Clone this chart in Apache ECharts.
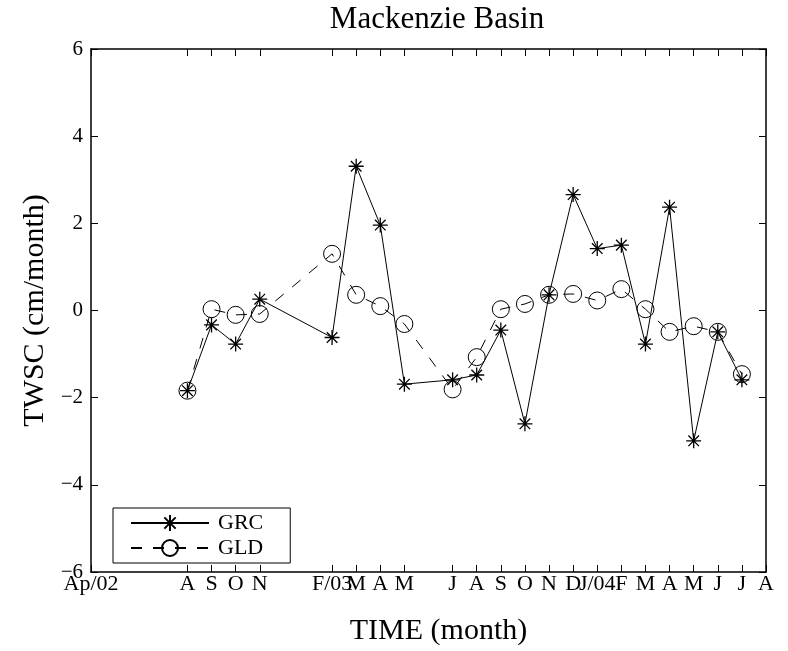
<!DOCTYPE html>
<html>
<head>
<meta charset="utf-8">
<script src="https://cdn.jsdelivr.net/npm/echarts@6/dist/echarts.min.js"></script>
<style>
html,body{margin:0;padding:0;background:#fff;}
#chart{width:788px;height:651px;}
</style>
</head>
<body>
<div id="chart"></div>
<script>
// Months from Apr 2002 (index 0) to Aug 2004 (index 28)
var monthLabels = ['Ap/02','','','','A','S','O','N','','','F/03','M','A','M','','J','A','S','O','N','D','J/04','F','M','A','M','J','J','A'];
var grcValues = [null,null,null,null,-1.84,-0.33,-0.77,0.26,null,null,-0.62,3.31,1.96,-1.69,null,-1.59,-1.48,-0.45,-2.60,0.36,2.66,1.42,1.50,-0.77,2.37,-2.99,-0.49,-1.59,null];
var gldValues = [null,null,null,null,-1.84,0.03,-0.10,-0.08,null,null,1.30,0.36,0.10,-0.31,null,-1.81,-1.07,0.03,0.15,0.36,0.38,0.23,0.49,0.03,-0.49,-0.36,-0.49,-1.46,null];
var yTicks = {min:-6, max:6, step:2};

var FONT = 'Liberation Serif';
var asterisk = 'path://M0,-10L0,10M-10,0L10,0M-7.07,-7.07L7.07,7.07M-7.07,7.07L7.07,-7.07';
function fmtY(v){ return v < 0 ? '\u2212' + Math.abs(v) : String(v); }
var tickFn = function(i, v){ return v !== ''; };

var chart = echarts.init(document.getElementById('chart'));
chart.setOption({
  animation: false,
  backgroundColor: '#fff',
  title: {
    text: 'Mackenzie Basin',
    left: 437, textAlign: 'center', top: 4, padding: 0,
    textStyle: {fontFamily: FONT, fontSize: 31, fontWeight: 'normal', color: '#000'}
  },
  grid: {left: 91, right: 22, top: 49, bottom: 78, containLabel: false},
  legend: {
    left: 113, top: 508, orient: 'vertical',
    padding: [4, 27, 4, 17], itemGap: 3,
    itemWidth: 78, itemHeight: 20,
    borderColor: '#000', borderWidth: 1, backgroundColor: '#fff',
    textStyle: {fontFamily: FONT, fontSize: 22, lineHeight: 22, color: '#000', padding: [0,0,0,4]},
    data: ['GRC', 'GLD']
  },
  xAxis: [{
    type: 'category', data: monthLabels, boundaryGap: false, position: 'bottom',
    name: 'TIME (month)', nameLocation: 'middle', nameGap: 44,
    nameTextStyle: {fontFamily: FONT, fontSize: 30, color: '#000', padding: [0,0,0,20]},
    axisLine: {show: true, onZero: false, lineStyle: {color: '#000', width: 1.5}},
    axisTick: {show: true, inside: true, length: 7, interval: tickFn, lineStyle: {color: '#000'}},
    axisLabel: {interval: 0, margin: 1, fontFamily: FONT, fontSize: 22, color: '#000', hideOverlap: false},
    splitLine: {show: false}
  }, {
    type: 'category', data: monthLabels, boundaryGap: false, position: 'top',
    axisLine: {show: true, onZero: false, lineStyle: {color: '#000', width: 1.5}},
    axisTick: {show: true, inside: true, length: 7, interval: tickFn, lineStyle: {color: '#000'}},
    axisLabel: {show: false}, splitLine: {show: false}
  }],
  yAxis: [{
    type: 'value', min: yTicks.min, max: yTicks.max, interval: yTicks.step, position: 'left',
    name: 'TWSC (cm/month)', nameLocation: 'middle', nameGap: 38, nameRotate: 90,
    nameTextStyle: {fontFamily: FONT, fontSize: 30, color: '#000'},
    axisLine: {show: true, onZero: false, lineStyle: {color: '#000', width: 1.5}},
    axisTick: {show: true, inside: true, length: 7, lineStyle: {color: '#000'}},
    axisLabel: {margin: 8, fontFamily: FONT, fontSize: 21, color: '#000', formatter: fmtY},
    splitLine: {show: false}
  }, {
    type: 'value', min: yTicks.min, max: yTicks.max, interval: yTicks.step, position: 'right',
    axisLine: {show: true, onZero: false, lineStyle: {color: '#000', width: 1.5}},
    axisTick: {show: true, inside: true, length: 7, lineStyle: {color: '#000'}},
    axisLabel: {show: false}, splitLine: {show: false}
  }],
  series: [{
    name: 'GRC', type: 'line', data: grcValues, connectNulls: true,
    symbol: asterisk, symbolSize: 15, showAllSymbol: true,
    lineStyle: {color: '#000', width: 1},
    itemStyle: {color: 'rgba(0,0,0,0)', borderColor: '#000', borderWidth: 1.3}
  }, {
    name: 'GLD', type: 'line', data: gldValues, connectNulls: true,
    symbol: 'circle', symbolSize: 17, showAllSymbol: true,
    lineStyle: {color: '#000', width: 1, type: [11, 11]},
    itemStyle: {color: 'rgba(0,0,0,0)', borderColor: '#000', borderWidth: 1}
  }]
});
</script>
</body>
</html>
